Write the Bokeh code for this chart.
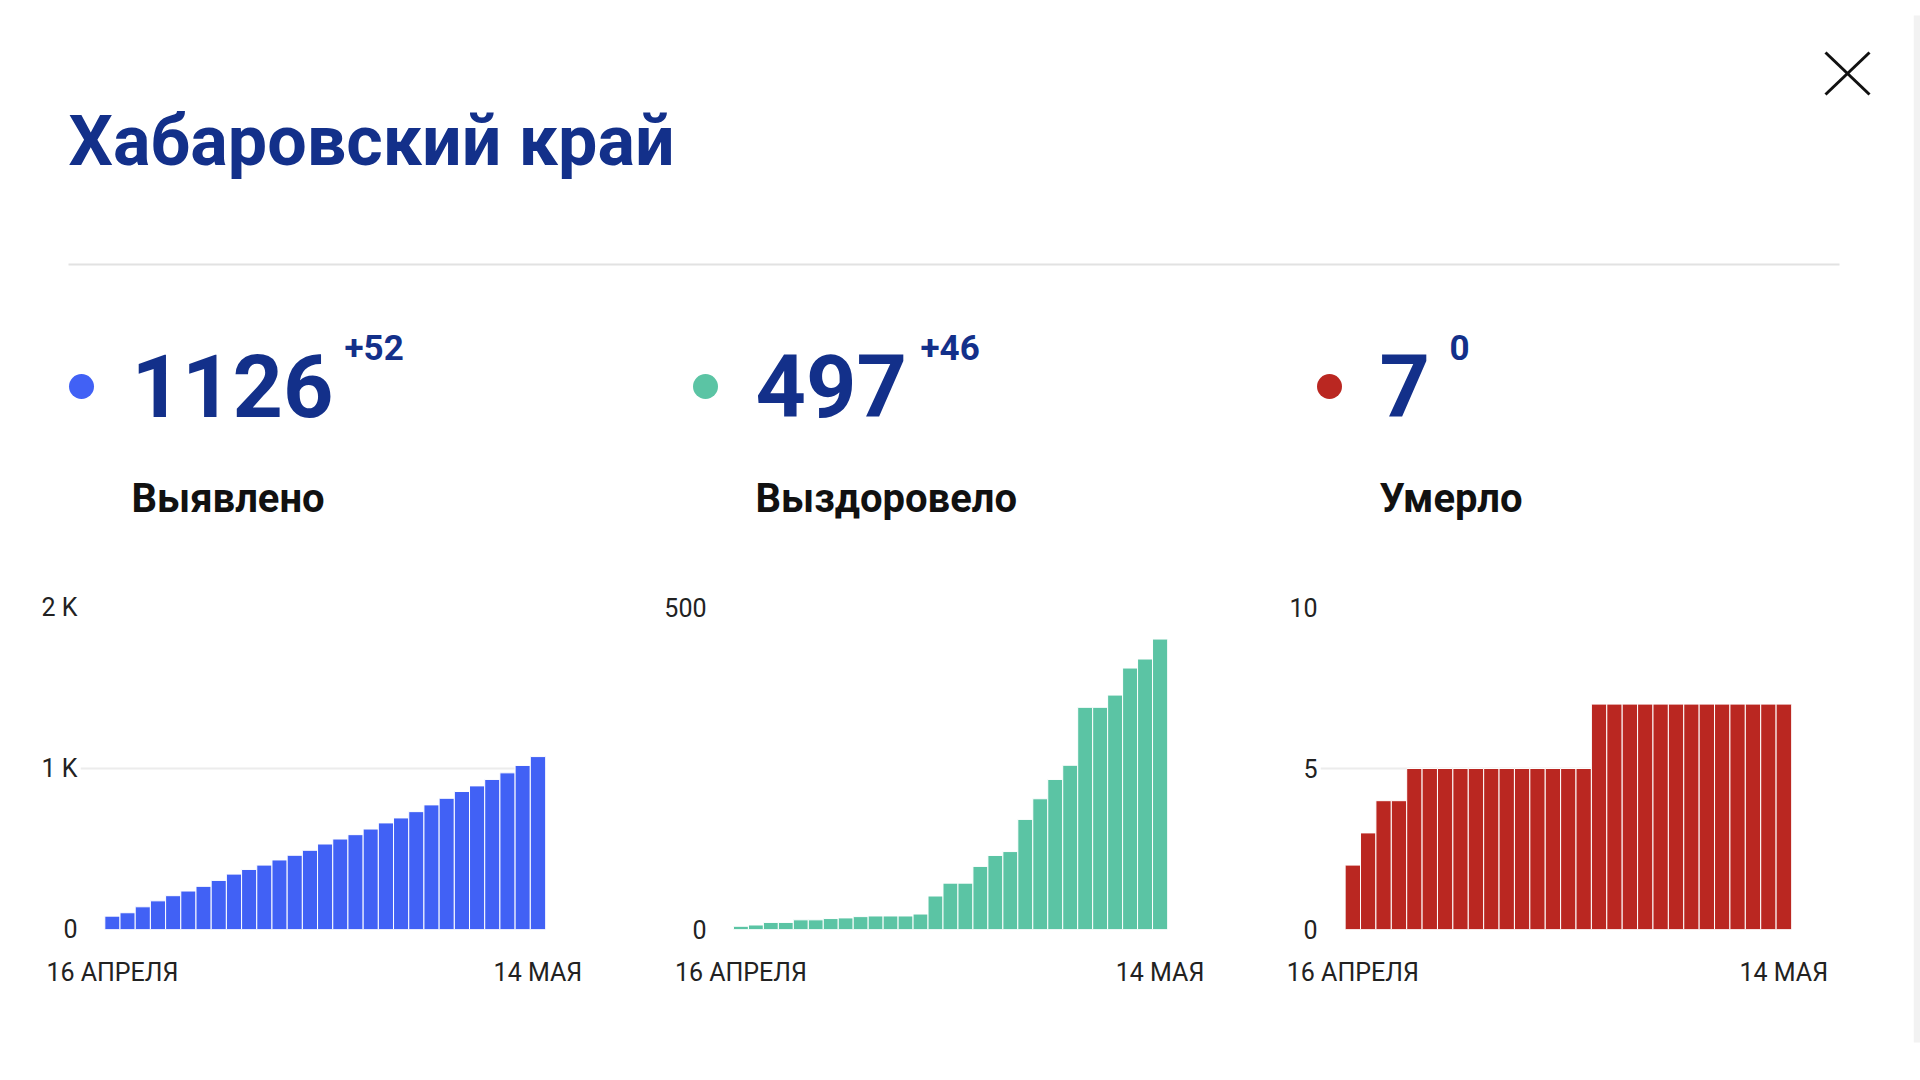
from bokeh.plotting import figure
from bokeh.models import Label, FixedTicker, Range1d
from bokeh.layouts import row, column
from bokeh.embed import file_html
from bokeh.resources import INLINE

# ---------------- data ----------------
region_title = "Хабаровский край"
metric_names = ["Выявлено", "Выздоровело", "Умерло"]
metric_totals = [1126, 497, 7]
metric_deltas = ["+52", "+46", "0"]
metric_colors = ["#4161F5", "#5BC4A4", "#BA2721"]

first_day_label = "16 АПРЕЛЯ"
last_day_label = "14 МАЯ"

confirmed = [83, 104, 141, 178, 210, 239, 268, 305, 344, 373, 400, 432, 461, 492,
             531, 562, 589, 624, 662, 693, 732, 774, 815, 857, 892, 932, 973, 1019, 1074]
recovered = [5, 7, 11, 11, 15, 15, 17, 18, 20, 21, 21, 21, 24, 52, 72, 72, 98,
             115, 121, 171, 203, 233, 255, 345, 345, 364, 406, 420, 451]
deaths = [2, 3, 4, 4, 5, 5, 5, 5, 5, 5, 5, 5, 5, 5, 5, 5,
          7, 7, 7, 7, 7, 7, 7, 7, 7, 7, 7, 7, 7]

y_ticks = [[0, 1000, 2000], [0, 500], [0, 5, 10]]
y_tick_labels = [["0", "1 K", "2 K"], ["0", "500"], ["0", "5", "10"]]

NAVY = "#13308A"
FONT = "Roboto"

# ---------------- header ----------------
W_MAIN = 1913
H_HEAD = 570
head = figure(width=W_MAIN, height=H_HEAD, x_range=Range1d(0, W_MAIN), y_range=Range1d(H_HEAD, 0),
              output_backend="svg", toolbar_location=None, min_border=0)
head.axis.visible = False
head.grid.visible = False
head.outline_line_color = None

head.add_layout(Label(x=68, y=140, text=region_title, text_font=FONT, text_font_size="70px",
                      text_font_style="bold", text_color=NAVY, text_baseline="alphabetic"))
head.segment(x0=[68], y0=[264], x1=[1839], y1=[264], line_color="#e2e2e2", line_width=2)
head.segment(x0=[1825, 1825], y0=[52, 94], x1=[1869, 1869], y1=[94, 52], line_color="#111111", line_width=3)

col_x = [0, 624, 1248]
head.scatter(x=[c + 81 for c in col_x], y=[386] * 3, size=25, color=metric_colors, line_color=None)
for i in range(3):
    cx = col_x[i]
    head.add_layout(Label(x=cx + 131, y=385, text=str(metric_totals[i]), text_font=FONT,
                          text_font_size="88px", text_font_style="bold", text_color=NAVY,
                          text_baseline="alphabetic"))
    head.add_layout(Label(x=cx + 131, y=498, text=metric_names[i], text_font=FONT, text_font_size="40px",
                          text_font_style="bold", text_color="#111111", text_baseline="alphabetic"))
delta_x = [344, 920, 1449]
for i in range(3):
    head.add_layout(Label(x=delta_x[i], y=347, text=metric_deltas[i], text_font=FONT, text_font_size="35px",
                          text_font_style="bold", text_color=NAVY, text_baseline="alphabetic"))

# ---------------- charts ----------------
series = [confirmed, recovered, deaths]
borders = [(80, 465, 79), (85, 458, 81), (72, 471, 122)]
H_CHART = 1080 - H_HEAD
TOP = 37
FH = 322
charts = []
for i in range(3):
    vals = series[i]
    n = len(vals)
    left, fw, right = borders[i]
    pad = 1.6
    p = figure(frame_width=fw, frame_height=FH, min_border_left=left, min_border_right=right,
               min_border_top=TOP, min_border_bottom=H_CHART - TOP - FH,
               x_range=Range1d(-0.5 - pad, n - 0.5), y_range=Range1d(0, y_ticks[i][-1]),
               output_backend="svg", toolbar_location=None)
    p.outline_line_color = None
    p.xgrid.visible = False
    p.ygrid.ticker = FixedTicker(ticks=y_ticks[i])
    p.ygrid.grid_line_color = "#ececec"
    p.ygrid.grid_line_width = 2
    p.vbar(x=list(range(n)), top=vals, width=1.0, bottom=0, fill_color=metric_colors[i],
           line_color="white", line_width=1)

    ya = p.yaxis[0]
    ya.ticker = FixedTicker(ticks=y_ticks[i])
    ya.major_label_overrides = {t: l for t, l in zip(y_ticks[i], y_tick_labels[i])}
    ya.axis_line_color = None
    ya.major_tick_line_color = None
    ya.minor_tick_line_color = None
    ya.major_tick_out = 0
    ya.major_label_standoff = 3
    ya.major_label_text_font = FONT
    ya.major_label_text_font_size = "25px"
    ya.major_label_text_color = "#222222"

    xa = p.xaxis[0]
    xa.ticker = FixedTicker(ticks=[0, n - 1])
    xa.major_label_overrides = {0: first_day_label, n - 1: last_day_label}
    xa.axis_line_color = None
    xa.major_tick_line_color = None
    xa.minor_tick_line_color = None
    xa.major_tick_out = 0
    xa.major_label_standoff = 28
    xa.major_label_text_font = FONT
    xa.major_label_text_font_size = "25px"
    xa.major_label_text_color = "#222222"
    charts.append(p)

# right edge of the card
edge = figure(width=1920 - W_MAIN, height=1080, x_range=Range1d(0, 1), y_range=Range1d(1080, 0),
              output_backend="svg", toolbar_location=None, min_border=0)
edge.axis.visible = False
edge.grid.visible = False
edge.outline_line_color = None
edge.quad(left=[0], right=[1], top=[15], bottom=[1042], fill_color="#f2f2f2", line_color=None)

layout = row(column(head, row(*charts, spacing=0), spacing=0), edge, spacing=0)
open("out.html", "w").write(file_html(layout, INLINE))
